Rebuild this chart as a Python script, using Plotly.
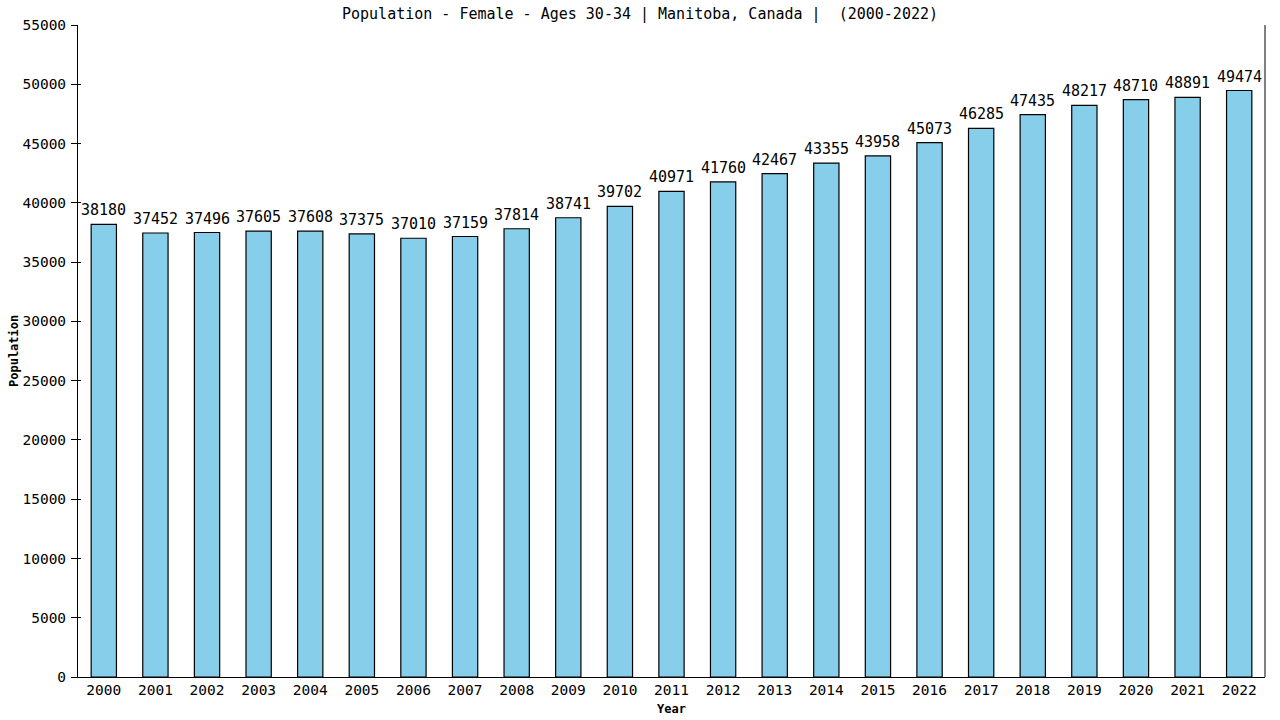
import plotly.graph_objects as go

years = [str(y) for y in range(2000, 2023)]
population = [38180, 37452, 37496, 37605, 37608, 37375, 37010, 37159, 37814, 38741,
              39702, 40971, 41760, 42467, 43355, 43958, 45073, 46285, 47435, 48217,
              48710, 48891, 49474]
y_ticks = list(range(0, 55001, 5000))

FONT = "DejaVu Sans Mono"
W, H = 1280, 720

fig = go.Figure()
fig.add_trace(go.Bar(
    x=years, y=population,
    marker=dict(color="#87CEEB", line=dict(color="black", width=1.2)),
    width=0.49,
    cliponaxis=False,
    hoverinfo="x+y",
))
# overlay axis for the inner half of the crossing y ticks
fig.add_trace(go.Scatter(x=[years[0]], y=[None], yaxis="y2", showlegend=False,
                         hoverinfo="skip"))

for i, v in enumerate(population):
    fig.add_annotation(x=i, y=v, text=str(v), showarrow=False,
                       xanchor="center", yanchor="bottom", yshift=3,
                       font=dict(family=FONT, size=15, color="black"))

fig.add_annotation(text="<b>Year</b>", xref="paper", yref="paper", x=0.5, y=0,
                   xanchor="center", yanchor="middle", yshift=-32, showarrow=False,
                   font=dict(family=FONT, size=12, color="black"))
fig.add_annotation(text="<b>Population</b>", xref="paper", yref="paper", x=0, y=0.5,
                   xanchor="center", yanchor="middle", xshift=-64, textangle=-90,
                   showarrow=False, font=dict(family=FONT, size=12, color="black"))

fig.update_layout(
    width=W, height=H,
    margin=dict(l=78, r=15, t=25, b=43, autoexpand=False),
    paper_bgcolor="white", plot_bgcolor="white",
    title=dict(text="Population - Female - Ages 30-34 | Manitoba, Canada |  (2000-2022)",
               x=0.5, xanchor="center", y=1 - 14 / H, yanchor="middle",
               font=dict(family=FONT, size=15, color="black")),
    font=dict(family=FONT, color="black"),
    showlegend=False,
)
fig.update_xaxes(
    type="category", categoryorder="array", categoryarray=years,
    range=[-0.5, len(years) - 0.5],
    showline=True, linecolor="black", linewidth=1, mirror=False,
    ticks="", tickfont=dict(family=FONT, size=14.5), automargin=False,
    showgrid=False,
)
fig.update_layout(
    yaxis=dict(
        range=[0, 55000], tickvals=y_ticks, ticktext=[str(v) for v in y_ticks],
        showline=True, linecolor="black", linewidth=1,
        ticks="outside", ticklen=6, tickcolor="black", tickwidth=1, automargin=False,
        tickfont=dict(family=FONT, size=14.5), ticklabelstandoff=2,
        showgrid=False, zeroline=False,
    ),
    yaxis2=dict(
        overlaying="y", side="left", anchor="x",
        range=[0, 55000], tickvals=y_ticks, showticklabels=False,
        ticks="inside", ticklen=3, tickcolor="black", tickwidth=1,
        showline=False, showgrid=False, zeroline=False, automargin=False,
    ),
)
# right border line
fig.add_shape(type="line", xref="paper", yref="paper", x0=1, x1=1, y0=0, y1=1,
              line=dict(color="black", width=1))

fig.write_html("out.html",
               config={"displayModeBar": False},
               post_script="document.body.style.margin='0';document.body.style.overflow='hidden';")
